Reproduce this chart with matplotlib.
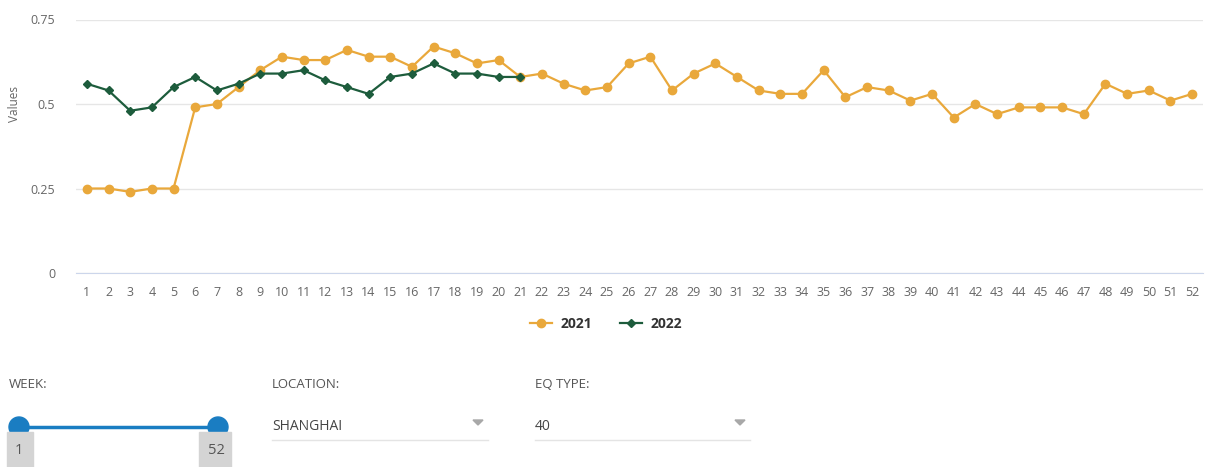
import matplotlib.pyplot as plt
from matplotlib.patches import Rectangle, Circle, Polygon

plt.rcParams['font.family'] = ['Open Sans', 'DejaVu Sans']

# weekly values
weeks = list(range(1, 53))
vals_2021 = [0.25, 0.25, 0.24, 0.25, 0.25, 0.49, 0.50, 0.55, 0.60, 0.64,
             0.63, 0.63, 0.66, 0.64, 0.64, 0.61, 0.67, 0.65, 0.62, 0.63,
             0.58, 0.59, 0.56, 0.54, 0.55, 0.62, 0.64, 0.54, 0.59, 0.62,
             0.58, 0.54, 0.53, 0.53, 0.60, 0.52, 0.55, 0.54, 0.51, 0.53,
             0.46, 0.50, 0.47, 0.49, 0.49, 0.49, 0.47, 0.56, 0.53, 0.54,
             0.51, 0.53]
weeks_2022 = list(range(1, 22))
vals_2022 = [0.56, 0.54, 0.48, 0.49, 0.55, 0.58, 0.54, 0.56, 0.59, 0.59,
             0.60, 0.57, 0.55, 0.53, 0.58, 0.59, 0.62, 0.59, 0.59, 0.58,
             0.58]
yticks = [0, 0.25, 0.5, 0.75]
ytick_labels = ['0', '0.25', '0.5', '0.75']

W, H = 1208, 467
orange = '#E9A83B'
green = '#1D5C3C'

fig = plt.figure(figsize=(W / 100, H / 100), dpi=100)
ax = fig.add_axes([76 / W, 1 - 273 / H, (1203 - 76) / W, (273 - 19.5) / H])

ax.plot(weeks, vals_2021, color=orange, lw=1.6, marker='o', ms=6,
        label='2021', zorder=2)
ax.plot(weeks_2022, vals_2022, color=green, lw=1.6, marker='D', ms=4,
        label='2022', zorder=3)

ax.set_xlim(0.5, 52.5)
ax.set_ylim(0, 0.75)
ax.set_xticks(weeks)
ax.set_xticklabels([str(w) for w in weeks])
ax.set_yticks(yticks)
ax.set_yticklabels(ytick_labels)
ax.grid(axis='y', color='#e6e6e6', lw=1)
ax.set_axisbelow(True)
for s in ['top', 'right', 'left']:
    ax.spines[s].set_visible(False)
ax.spines['bottom'].set_color('#ccd6eb')
ax.tick_params(axis='both', length=0, colors='#666666', labelsize=9)
ax.tick_params(axis='x', pad=9)
ax.tick_params(axis='y', pad=15)
fig.text(15 / W, 1 - 104 / H, 'Values', rotation=90, color='#666666',
         fontsize=8.5, ha='center', va='center')

leg = fig.legend(loc='center', bbox_to_anchor=(606 / W, 1 - 324 / H), ncol=2,
                 frameon=False, fontsize=10, handlelength=1.6,
                 columnspacing=2.0, handletextpad=0.6)
for t in leg.get_texts():
    t.set_color('#333333')
    t.set_fontweight('bold')

# control widgets under the chart, drawn in pixel space
ov = fig.add_axes([0, 0, 1, 1])
ov.set_xlim(0, W)
ov.set_ylim(H, 0)
ov.axis('off')
ov.patch.set_alpha(0)

lbl = dict(color='#555555', fontsize=9.5, va='center', ha='left')
ov.text(9, 385, 'WEEK:', **lbl)
ov.text(272, 385, 'LOCATION:', **lbl)
ov.text(535, 385, 'EQ TYPE:', **lbl)

blue = '#1a7dc2'
ov.plot([19, 218], [427, 427], color=blue, lw=2.5, solid_capstyle='butt')
for cx in (19, 218):
    ov.add_patch(Circle((cx, 427), 10, color=blue, zorder=3))
ov.add_patch(Rectangle((7, 432), 26, 36, color='#d4d4d4', zorder=4))
ov.add_patch(Rectangle((199, 432), 32, 36, color='#d4d4d4', zorder=4))
ov.text(19, 451, '1', color='#555555', fontsize=10.5, ha='center', va='center', zorder=5)
ov.text(216, 451, '52', color='#555555', fontsize=10.5, ha='center', va='center', zorder=5)

sel = dict(color='#444444', fontsize=10, va='center', ha='left')
ov.text(272, 426, 'SHANGHAI', **sel)
ov.text(535, 426, '40', **sel)
for x0, x1 in ((272, 488), (535, 750)):
    ov.plot([x0, x1], [440, 440], color='#e4e4e4', lw=1)
    ax_x = x1 - 10
    ov.add_patch(Polygon([[ax_x - 5, 420], [ax_x + 5, 420], [ax_x, 425]],
                         closed=True, color='#a8a8a8'))

fig.savefig('out.png', dpi=100)
